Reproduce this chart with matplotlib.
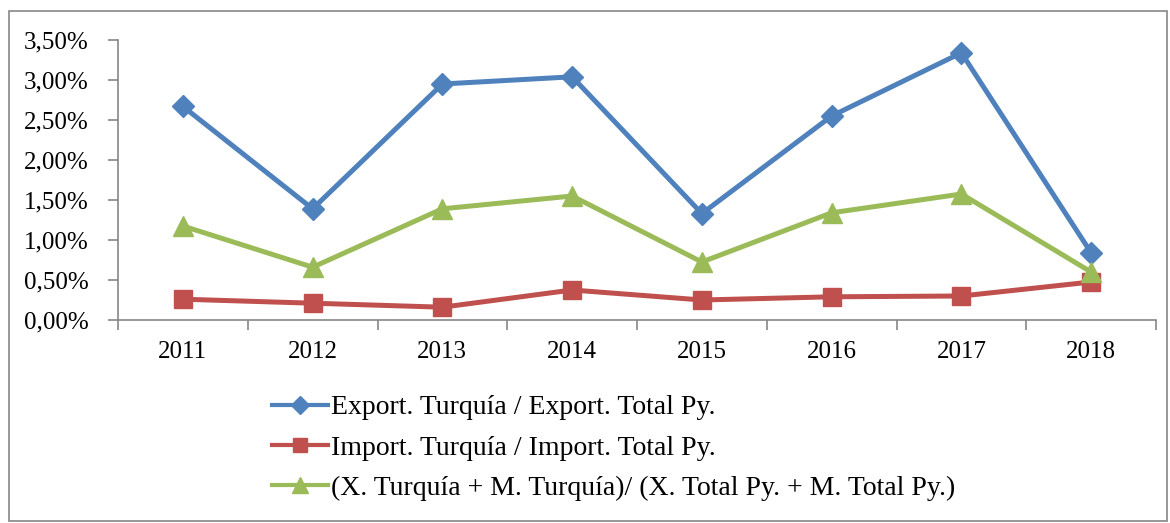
import matplotlib.pyplot as plt
from matplotlib.patches import Rectangle

years = ["2011", "2012", "2013", "2014", "2015", "2016", "2017", "2018"]
export_share = [2.67, 1.39, 2.95, 3.04, 1.33, 2.55, 3.34, 0.84]
import_share = [0.26, 0.21, 0.16, 0.375, 0.25, 0.29, 0.30, 0.475]
total_share = [1.175, 0.66, 1.39, 1.55, 0.725, 1.34, 1.575, 0.60]
labels = ["Export. Turquía / Export. Total Py.",
          "Import. Turquía / Import. Total Py.",
          "(X. Turquía + M. Turquía)/ (X. Total Py. + M. Total Py.)"]
yticks = [0, 0.5, 1.0, 1.5, 2.0, 2.5, 3.0, 3.5]

plt.rcParams['font.family'] = ['Liberation Serif', 'DejaVu Serif']

fig = plt.figure(figsize=(11.7, 5.23), dpi=100)
ax = fig.add_axes([118/1170, 1-320/523, (1156-118)/1170, 280/523])

x = list(range(len(years)))
ax.plot(x, export_share, color='#4F81BD', lw=3.6, marker='D', ms=11, label=labels[0])
ax.plot(x, import_share, color='#C0504D', lw=3.6, marker='s', ms=13, label=labels[1])
ax.plot(x, total_share, color='#9BBB59', lw=3.6, marker='^', ms=14, label=labels[2])

ax.set_xlim(-0.5, len(years) - 0.5)
ax.set_ylim(0, 3.5)
ax.set_yticks(yticks)
ax.set_yticklabels([("%.2f%%" % v).replace('.', ',') for v in yticks], fontsize=18)
ax.set_xticks(x)
ax.set_xticklabels(years, fontsize=18)
ax.set_xticks([i - 0.5 for i in range(len(years) + 1)], minor=True)
ax.tick_params(axis='x', which='major', length=0, pad=15)
ax.tick_params(axis='x', which='minor', length=7, color='#868686', width=1.2)
ax.tick_params(axis='y', length=7, color='#868686', width=1.2, pad=14)
for s in ['top', 'right']:
    ax.spines[s].set_visible(False)
for s in ['left', 'bottom']:
    ax.spines[s].set_color('#868686')
    ax.spines[s].set_linewidth(1.2)

leg = fig.legend(loc='upper left', bbox_to_anchor=(272/1170, 1-395/523), frameon=False,
                 fontsize=20, handlelength=2.02, handletextpad=0.1,
                 labelspacing=0.53, borderaxespad=0, borderpad=0, markerscale=0.8)
for h in leg.legend_handles:
    h.set_linewidth(3.0)

fig.patches.append(Rectangle((9/1170, 2/523), 1158/1170, 510/523, transform=fig.transFigure,
                             fill=False, edgecolor='#868686', lw=1.2))

fig.savefig('out.png', dpi=100)
